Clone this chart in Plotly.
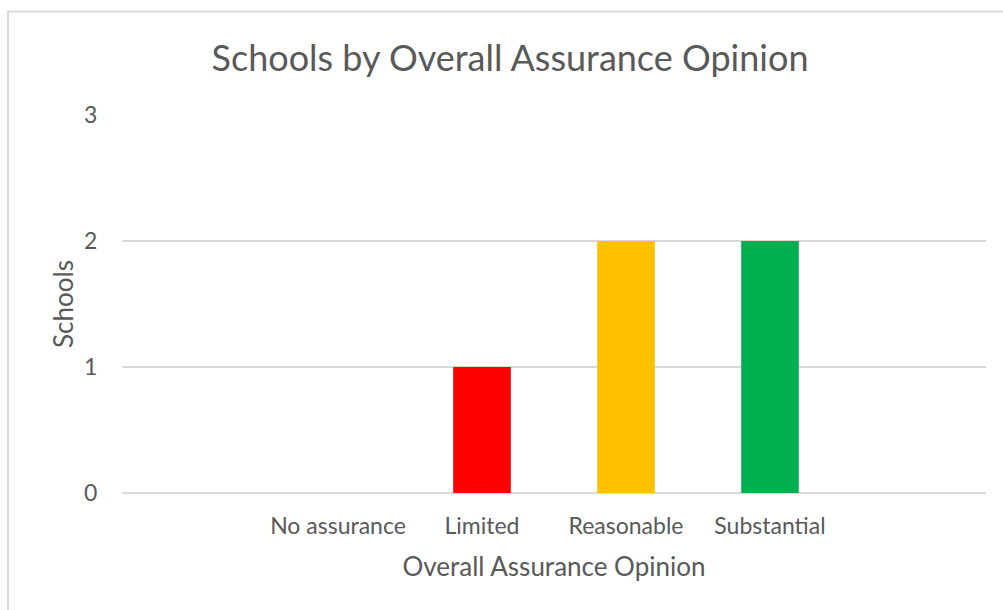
import plotly.graph_objects as go

categories = ["No assurance", "Limited", "Reasonable", "Substantial"]
schools = [0, 1, 2, 2]
bar_colors = ["#7F7F7F", "#FF0000", "#FFC000", "#00B050"]
y_ticks = [0, 1, 2, 3]

FONT = "Lato, 'Open Sans', sans-serif"
GRAY = "#595959"
GRID = "#D9D9D9"

fig = go.Figure(go.Bar(
    x=categories, y=schools, marker_color=bar_colors, marker_line_width=0,
    hoverinfo="x+y",
))

L, R, T, B = 122, 17, 115, 117
W, H = 1003, 610
pw, ph = W - L - R, H - T - B

fig.update_layout(
    width=W, height=H,
    margin=dict(l=L, r=R, t=T, b=B, pad=0),
    paper_bgcolor="white", plot_bgcolor="white",
    bargap=0.6,
    showlegend=False,
    font=dict(family=FONT, color=GRAY),
    title=dict(text="Schools by Overall Assurance Opinion",
               font=dict(size=36, color=GRAY, family=FONT),
               x=510 / W, xanchor="center", xref="container",
               y=1 - 58 / H, yanchor="middle", yref="container"),
    xaxis=dict(type="category", range=[-1.5, 3.5 + 1.0], showgrid=False,
               showline=False, zeroline=False,
               ticks="outside", ticklen=12, tickcolor="rgba(0,0,0,0)",
               tickfont=dict(size=23, color=GRAY),
               title=dict(text="Overall Assurance Opinion",
                          font=dict(size=26, color=GRAY), standoff=20)),
    yaxis=dict(range=[0, 3], tickvals=y_ticks, showgrid=True, gridcolor=GRID,
               gridwidth=1.5, zeroline=True, zerolinecolor=GRID, zerolinewidth=1.5,
               showline=False, ticks="outside", ticklen=19,
               tickcolor="rgba(0,0,0,0)",
               tickfont=dict(size=23, color=GRAY),
               title=dict(text="Schools", font=dict(size=26, color=GRAY),
                          standoff=2)),
    shapes=[dict(type="rect", xref="paper", yref="paper",
                 x0=(8 - L) / pw, x1=(W + 20 - L) / pw,
                 y0=(H - B - (H + 20)) / ph, y1=(H - B - 11.5) / ph,
                 line=dict(color=GRID, width=2), fillcolor="rgba(0,0,0,0)",
                 layer="below")],
)

fig.write_html("out.html")
